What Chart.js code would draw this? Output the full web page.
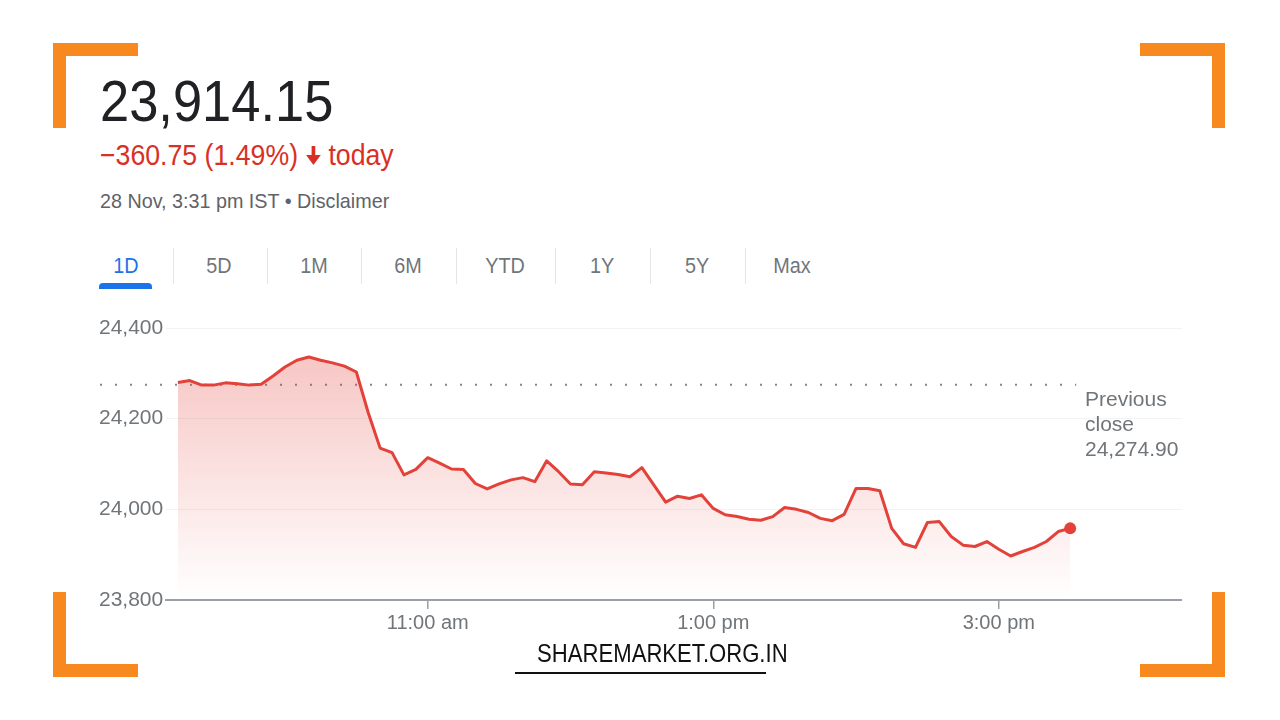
<!DOCTYPE html>
<html>
<head>
<meta charset="utf-8">
<script src="https://cdn.jsdelivr.net/npm/chart.js@4.4.1/dist/chart.umd.min.js"></script>
<style>
  body { margin: 0; width: 1280px; height: 720px; overflow: hidden; background: #fff;
         font-family: "Liberation Sans", Arial, sans-serif; position: relative; }
  .corner { position: absolute; background: #f7891f; }
  .abs { position: absolute; white-space: nowrap; }
  .condensed { transform: scaleX(0.92); transform-origin: left center; }
  .tab { position: absolute; top: 253px; width: 80px; text-align: center; font-size: 22px;
         color: #70757a; transform: scaleX(0.9); }
  .sep { position: absolute; top: 248px; width: 1px; height: 36px; background: #e3e5e8; }
  #chartBox { position: absolute; left: 99px; top: 310px; width: 1083px; height: 330px; }
</style>
</head>
<body>

<!-- ========== ESQUINAS NARANJAS ========== -->
<div class="corner" style="left:53px;top:43px;width:85px;height:13px"></div>
<div class="corner" style="left:53px;top:43px;width:13px;height:85px"></div>
<div class="corner" style="left:1140px;top:43px;width:85px;height:13px"></div>
<div class="corner" style="left:1212px;top:43px;width:13px;height:85px"></div>
<div class="corner" style="left:53px;top:664px;width:85px;height:13px"></div>
<div class="corner" style="left:53px;top:592px;width:13px;height:85px"></div>
<div class="corner" style="left:1140px;top:664px;width:85px;height:13px"></div>
<div class="corner" style="left:1212px;top:592px;width:13px;height:85px"></div>

<!-- ========== CABECERA ========== -->
<div class="abs condensed" style="left:100px;top:73px;font-size:57px;line-height:57px;color:#202124">23,914.15</div>
<div class="abs condensed" style="left:100px;top:141px;font-size:29px;line-height:29px;color:#d93025;display:flex;align-items:center">
  <span>−360.75 (1.49%)</span>
  <svg width="20" height="21" viewBox="0 0 20 21" style="margin:0 6px 0 7px">
    <rect x="8" y="1" width="4" height="12" fill="#d93025"/>
    <polygon points="2,10 18,10 10,20" fill="#d93025"/>
  </svg>
  <span>today</span>
</div>
<div class="abs" style="left:100px;top:190px;font-size:21px;line-height:21px;color:#5f6368;transform:scaleX(0.94);transform-origin:left center">28 Nov, 3:31 pm IST • Disclaimer</div>

<!-- ========== PESTAÑAS ========== -->
<div class="tab" style="left:86px;color:#1a73e8">1D</div>
<div class="tab" style="left:179px">5D</div>
<div class="tab" style="left:274px">1M</div>
<div class="tab" style="left:368px">6M</div>
<div class="tab" style="left:465px">YTD</div>
<div class="tab" style="left:562px">1Y</div>
<div class="tab" style="left:657px">5Y</div>
<div class="tab" style="left:752px">Max</div>
<div class="sep" style="left:173px"></div>
<div class="sep" style="left:267px"></div>
<div class="sep" style="left:361px"></div>
<div class="sep" style="left:456px"></div>
<div class="sep" style="left:555px"></div>
<div class="sep" style="left:650px"></div>
<div class="sep" style="left:745px"></div>
<div class="abs" style="left:99px;top:283px;width:53px;height:6px;background:#1a73e8;border-radius:4px 4px 0 0"></div>

<!-- ========== GRÁFICO ========== -->
<div id="chartBox"><canvas id="priceChart"></canvas></div>

<div class="abs" style="left:1085px;top:386px;font-size:21px;line-height:25px;color:#70757a">Previous<br>close<br>24,274.90</div>

<!-- ========== MARCA DE AGUA ========== -->
<div class="abs" style="left:515px;top:638px;width:251px;text-align:center;font-size:26px;line-height:30px;color:#111">
  <span style="display:inline-block;transform:scaleX(0.85)">SHAREMARKET.ORG.IN</span>
</div>
<div class="abs" style="left:515px;top:672px;width:251px;height:2px;background:#111"></div>

<script>
// ========== DATOS ==========
const times = [
  "09:15","09:20","09:25","09:30","09:35","09:40","09:45","09:50","09:55",
  "10:00","10:05","10:10","10:15","10:20","10:25","10:30","10:35","10:40","10:45","10:50","10:55",
  "11:00","11:05","11:10","11:15","11:20","11:25","11:30","11:35","11:40","11:45","11:50","11:55",
  "12:00","12:05","12:10","12:15","12:20","12:25","12:30","12:35","12:40","12:45","12:50","12:55",
  "13:00","13:05","13:10","13:15","13:20","13:25","13:30","13:35","13:40","13:45","13:50","13:55",
  "14:00","14:05","14:10","14:15","14:20","14:25","14:30","14:35","14:40","14:45","14:50","14:55",
  "15:00","15:05","15:10","15:15","15:20","15:25","15:30"
];
const prices = [
  24280, 24284, 24274, 24274, 24279, 24277, 24274, 24276, 24294,
  24314, 24329, 24336, 24329, 24323, 24316, 24303, 24213, 24135, 24125, 24076, 24088,
  24114, 24102, 24089, 24088, 24057, 24045, 24056, 24065, 24070, 24061, 24107, 24083,
  24056, 24054, 24083, 24080, 24077, 24072, 24092, 24054, 24016, 24029, 24024, 24032,
  24002, 23988, 23984, 23978, 23976, 23984, 24004, 24000, 23993, 23980, 23975, 23989,
  24046, 24046, 24041, 23958, 23924, 23916, 23971, 23973, 23940, 23921, 23918, 23929,
  23912, 23897, 23907, 23916, 23929, 23951, 23958
];
const prevClose = 24274.90;
const yTicks = [23800, 24000, 24200, 24400];
const xTickTimes = ["11:00", "13:00", "15:00"];
const xTickLabels = ["11:00 am", "1:00 pm", "3:00 pm"];

const toMinutes = (t) => {
  const [h, m] = t.split(":").map(Number);
  return h * 60 + m;
};
const xTickValues = xTickTimes.map(toMinutes);
const points = times.map((t, i) => ({ x: toMinutes(t), y: prices[i] }));

Chart.defaults.font.family = '"Liberation Sans", Arial, sans-serif';

// línea punteada del cierre anterior
const prevCloseLine = {
  id: "prevCloseLine",
  beforeDatasetsDraw(chart) {
    const { ctx, scales: { x, y } } = chart;
    const py = y.getPixelForValue(prevClose);
    const endX = x.getPixelForValue(toMinutes(times[times.length - 1])) + 6;
    ctx.save();
    ctx.strokeStyle = "#80868b";
    ctx.lineWidth = 2;
    ctx.setLineDash([2, 13]);
    ctx.beginPath();
    ctx.moveTo(1, py);
    ctx.lineTo(endX, py);
    ctx.stroke();
    ctx.restore();
  }
};

const ctx = document.getElementById("priceChart").getContext("2d");
new Chart(ctx, {
  type: "line",
  data: {
    datasets: [{
      data: points,
      borderColor: "#e2423a",
      borderWidth: 3,
      borderJoinStyle: "round",
      tension: 0,
      fill: "start",
      clip: 8,
      backgroundColor: (c) => {
        const area = c.chart.chartArea;
        if (!area) return "rgba(226,66,58,0.2)";
        const g = c.chart.ctx.createLinearGradient(0, area.top + 25, 0, area.bottom);
        g.addColorStop(0, "rgba(226,66,58,0.30)");
        g.addColorStop(1, "rgba(226,66,58,0.0)");
        return g;
      },
      pointRadius: (c) => c.dataIndex === prices.length - 1 ? 6 : 0,
      pointBackgroundColor: "#e2423a",
      pointBorderWidth: 0
    }]
  },
  options: {
    responsive: true,
    maintainAspectRatio: false,
    animation: false,
    layout: { autoPadding: false, padding: { top: 18, right: 0, left: 0, bottom: 0 } },
    plugins: { legend: { display: false }, tooltip: { enabled: false } },
    scales: {
      x: {
        type: "linear",
        min: 550,
        max: 977,
        afterFit: (s) => { s.height = 40; },
        afterBuildTicks: (s) => { s.ticks = xTickValues.map(v => ({ value: v })); },
        grid: { drawOnChartArea: false, drawTicks: true, tickLength: 9, color: "#9aa0a6", lineWidth: 1.5 },
        border: { display: true, color: "#9aa0a6", width: 2 },
        ticks: {
          autoSkip: false,
          maxRotation: 0,
          padding: 2,
          color: "#70757a",
          font: { size: 20 },
          callback: (v) => xTickLabels[xTickValues.indexOf(v)]
        }
      },
      y: {
        min: 23800,
        max: 24400,
        afterFit: (s) => { s.width = 67; },
        afterBuildTicks: (s) => { s.ticks = yTicks.map(v => ({ value: v })); },
        grid: { color: "#f1f3f4", drawTicks: false, lineWidth: 1 },
        border: { display: false },
        ticks: {
          crossAlign: "far",
          color: "#70757a",
          font: { size: 21 },
          callback: (v) => v.toLocaleString("en-US")
        }
      }
    }
  },
  plugins: [prevCloseLine]
});
</script>
</body>
</html>
